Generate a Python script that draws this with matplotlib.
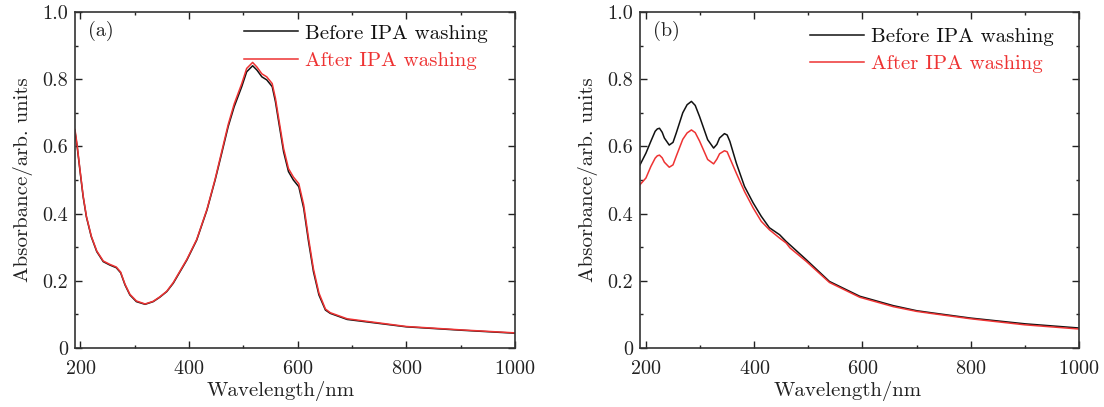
import matplotlib
matplotlib.use("Agg")
import matplotlib.pyplot as plt
from matplotlib.ticker import MultipleLocator, FuncFormatter

plt.rcParams['font.family'] = ['cmr10', 'DejaVu Serif']
plt.rcParams['mathtext.fontset'] = 'cm'
plt.rcParams['axes.formatter.use_mathtext'] = True

# ---------------- Data ----------------
# Panel (a)
wl_a = [190, 194, 199, 205, 211, 220, 230, 242, 254, 266, 274, 282, 291, 303, 319,
        334, 346, 359, 371, 396, 414, 433, 448, 460, 472, 483, 497, 506, 517, 525,
        534, 543, 553, 559, 565, 574, 583, 592, 602, 611, 620, 629, 639, 651, 660,
        691, 800, 900, 1000]
before_a = [0.644, 0.599, 0.530, 0.450, 0.390, 0.331, 0.287, 0.257, 0.247, 0.239,
            0.224, 0.188, 0.158, 0.138, 0.130, 0.138, 0.151, 0.168, 0.193, 0.262,
            0.321, 0.411, 0.500, 0.579, 0.659, 0.718, 0.778, 0.822, 0.840, 0.827,
            0.807, 0.798, 0.778, 0.733, 0.673, 0.584, 0.525, 0.500, 0.480, 0.416,
            0.316, 0.227, 0.158, 0.113, 0.103, 0.085, 0.063, 0.053, 0.044]
after_a = [0.650, 0.603, 0.533, 0.453, 0.392, 0.333, 0.289, 0.259, 0.249, 0.241,
           0.226, 0.190, 0.160, 0.140, 0.131, 0.139, 0.152, 0.169, 0.195, 0.264,
           0.323, 0.413, 0.503, 0.584, 0.665, 0.726, 0.787, 0.832, 0.850, 0.836,
           0.816, 0.807, 0.787, 0.743, 0.683, 0.594, 0.534, 0.509, 0.489, 0.426,
           0.326, 0.235, 0.164, 0.116, 0.105, 0.087, 0.064, 0.054, 0.045]

# Panel (b)
wl_b = [189, 200, 209, 217, 221, 225, 230, 234, 243, 250, 256, 268, 276, 284, 291,
        299, 314, 325, 331, 336, 345, 350, 355, 367, 382, 398, 413, 428, 447, 459,
        466, 496, 539, 595, 657, 700, 731, 800, 900, 1000]
before_b = [0.545, 0.580, 0.615, 0.645, 0.652, 0.654, 0.642, 0.625, 0.604, 0.612,
            0.640, 0.700, 0.724, 0.734, 0.722, 0.689, 0.620, 0.595, 0.606, 0.625,
            0.638, 0.634, 0.615, 0.550, 0.481, 0.432, 0.392, 0.358, 0.337, 0.317,
            0.307, 0.263, 0.198, 0.154, 0.126, 0.111, 0.104, 0.089, 0.072, 0.0595]
after_b = [0.486, 0.506, 0.540, 0.565, 0.572, 0.574, 0.566, 0.553, 0.538, 0.545,
           0.571, 0.621, 0.640, 0.649, 0.641, 0.616, 0.561, 0.548, 0.562, 0.578,
           0.587, 0.584, 0.565, 0.520, 0.466, 0.417, 0.377, 0.352, 0.327, 0.3125,
           0.298, 0.258, 0.195, 0.151, 0.123, 0.109, 0.102, 0.087, 0.069, 0.0565]

labels = ["Before IPA washing", "After IPA washing"]
panel_tags = ["(a)", "(b)"]
x_ticks = [200, 400, 600, 800, 1000]
y_ticks = [0, 0.2, 0.4, 0.6, 0.8, 1.0]

BLACK = '#111111'
RED = '#ee3333'

fig = plt.figure(figsize=(11.04, 4.07), dpi=100)
ax_a = fig.add_axes([75/1104, 59/407, 440/1104, 336/407])
ax_b = fig.add_axes([640/1104, 59/407, 439/1104, 336/407])

panels = [
    (ax_a, wl_a, before_a, after_a, (190, 1000), 0.384, 0.964, 0.468),
    (ax_b, wl_b, before_b, after_b, (189, 1000), 0.387, 0.954, 0.474),
]

def yfmt(v, pos):
    return "0" if abs(v) < 1e-9 else f"{v:.1f}"

for i, (ax, wl, b, a, xl, lx, ly, xlx) in enumerate(panels):
    ax.plot(wl, b, color=BLACK, lw=1.1, label=labels[0])
    ax.plot(wl, a, color=RED, lw=1.1, label=labels[1])
    ax.set_xlim(*xl)
    ax.set_ylim(0, 1.0)
    ax.set_xticks(x_ticks)
    ax.set_yticks(y_ticks)
    ax.xaxis.set_minor_locator(MultipleLocator(100))
    ax.yaxis.set_minor_locator(MultipleLocator(0.1))
    ax.yaxis.set_major_formatter(FuncFormatter(yfmt))
    ax.tick_params(which='both', direction='in', top=True, right=True,
                   labelsize=14.5, colors='#222222', width=1.0)
    ax.tick_params(axis='x', which='major', pad=8.5)
    ax.tick_params(axis='y', which='major', pad=5)
    ax.tick_params(which='major', length=5)
    ax.tick_params(which='minor', length=2.5)
    for s in ax.spines.values():
        s.set_linewidth(1.2)
        s.set_color('#333333')
    ax.set_xlabel("Wavelength/nm", fontsize=15, color='#222222', labelpad=2)
    ax.xaxis.label.set_x(xlx)
    ax.set_ylabel("Absorbance/arb. units", fontsize=15, color='#222222', labelpad=7)
    ax.text(0.03, 0.945, panel_tags[i], transform=ax.transAxes, fontsize=14.5,
            va='center', ha='left', color='#222222')
    leg = ax.legend(loc='upper left', bbox_to_anchor=(lx, ly), frameon=False,
                    fontsize=15, handlelength=2.6, handletextpad=0.35,
                    labelspacing=0.42, borderpad=0, borderaxespad=0,
                    labelcolor='linecolor')

fig.savefig("out.png", dpi=100)
